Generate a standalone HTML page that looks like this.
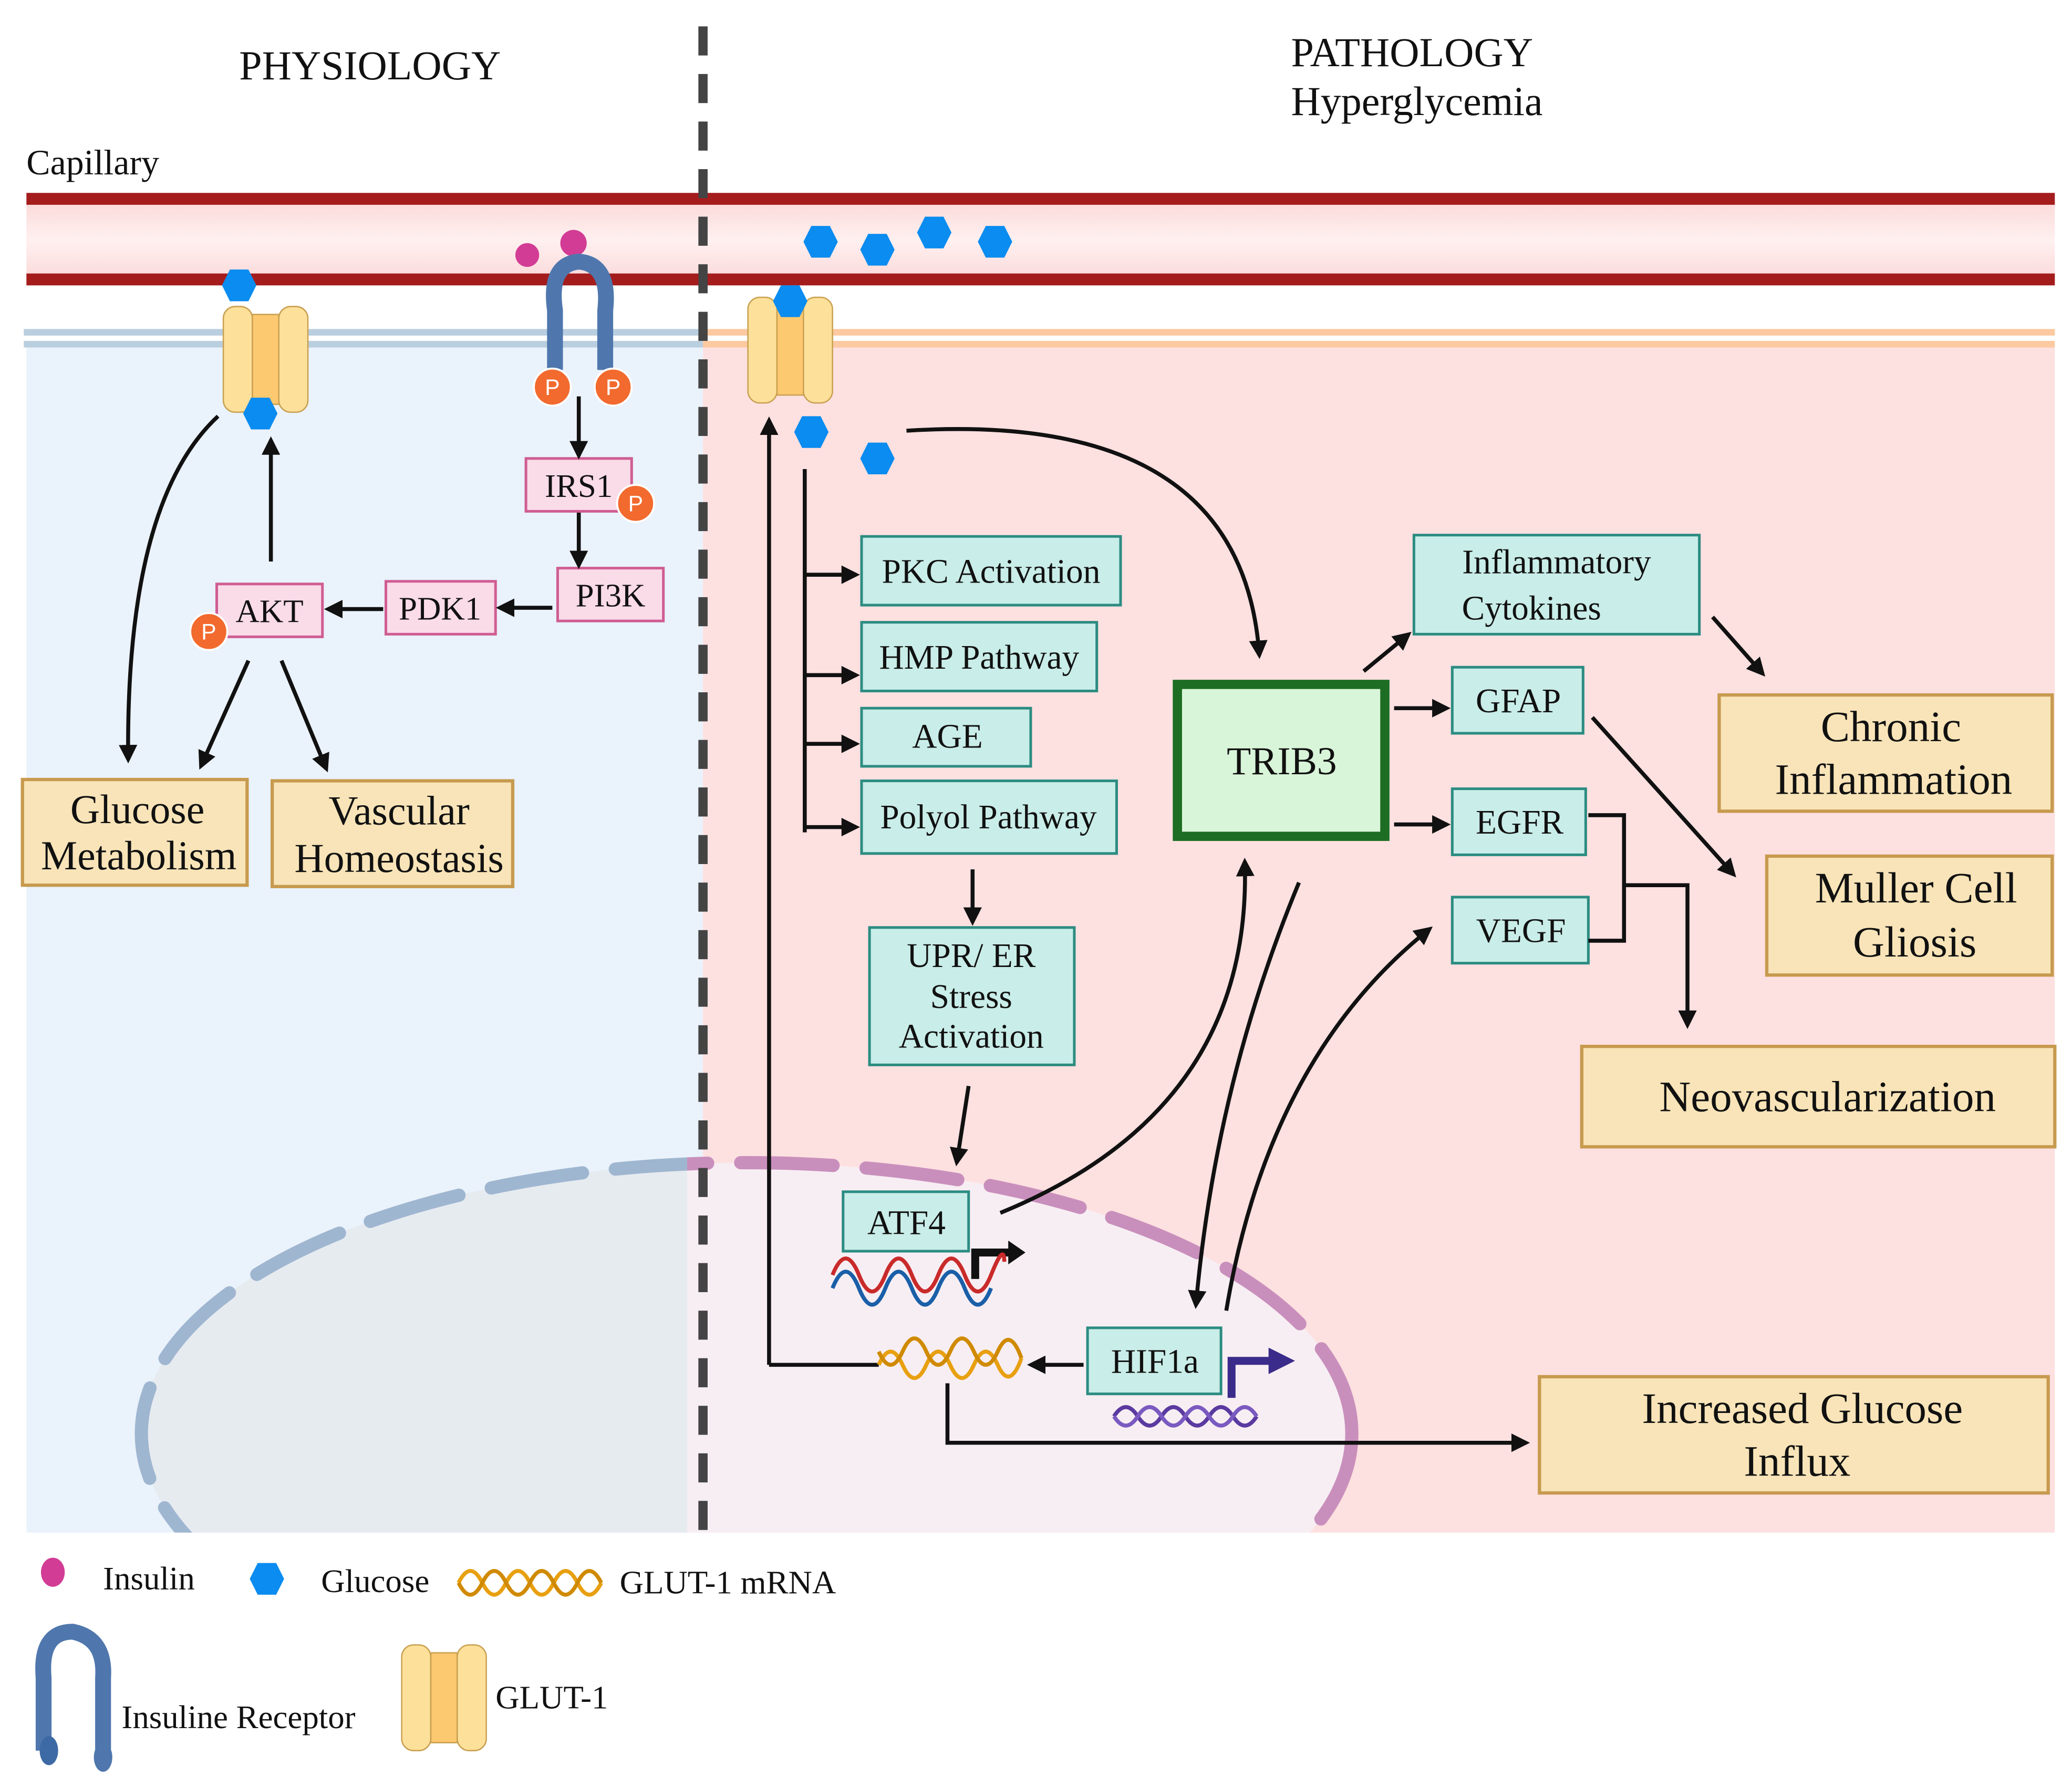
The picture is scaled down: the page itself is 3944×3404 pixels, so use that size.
<!DOCTYPE html>
<html><head><meta charset="utf-8"><style>html,body{margin:0;padding:0;background:#fff}svg{display:block}text{font-family:"Liberation Serif",serif;fill:#111}</style></head><body>
<svg width="3944" height="3404" viewBox="0 0 1568 1353.3" preserveAspectRatio="none" xmlns="http://www.w3.org/2000/svg">
<defs>
<marker id="a" viewBox="0 0 10 10" refX="8" refY="5" markerWidth="14" markerHeight="14" orient="auto" markerUnits="userSpaceOnUse"><path d="M0,0 L10,5 L0,10 z" fill="#111"/></marker>
<g id="hex"><polygon points="-13,0 -7,-12 7,-12 13,0 7,12 -7,12" fill="#0a8cf0"/></g>
<g id="glut"><rect x="-32" y="-40" width="22" height="80" rx="9" fill="#fde09a" stroke="#c9a050"/><rect x="10" y="-40" width="22" height="80" rx="9" fill="#fde09a" stroke="#c9a050"/><rect x="-10" y="-34" width="20" height="68" fill="#fcc870" stroke="#c9a050"/></g>
<g id="P"><circle r="14" fill="#f26a2e" stroke="#fff" stroke-width="1.5"/><text x="0" y="6" text-anchor="middle" font-size="17" style="fill:#fff;font-family:'Liberation Sans',sans-serif">P</text></g>
<linearGradient id="cap" x1="0" x2="0" y1="0" y2="1"><stop offset="0" stop-color="#fbd9d9"/><stop offset="0.5" stop-color="#fff0f0"/><stop offset="1" stop-color="#fbd9d9"/></linearGradient>
<clipPath id="cl"><rect x="0" y="0" width="1568" height="1160"/></clipPath>
<clipPath id="lh"><rect x="0" y="0" width="520" height="1160"/></clipPath>
<clipPath id="rh"><rect x="520" y="0" width="1048" height="1160"/></clipPath>
</defs>
<rect x="20" y="262" width="512" height="898" fill="#eaf2fb"/>
<rect x="532" y="262" width="1023" height="898" fill="#fde0e0"/>
<rect x="20" y="152" width="1535" height="60" fill="url(#cap)"/>
<rect x="20" y="146" width="1535" height="9" fill="#a51c1c"/>
<rect x="20" y="207" width="1535" height="9" fill="#a51c1c"/>
<rect x="18" y="249" width="514" height="5" fill="#b9cfe0"/><rect x="18" y="258" width="514" height="5" fill="#b9cfe0"/>
<rect x="532" y="249" width="1023" height="5" fill="#fcc9a0"/><rect x="532" y="258" width="1023" height="5" fill="#fcc9a0"/>
<g clip-path="url(#cl)">
<ellipse cx="565" cy="1085" rx="458" ry="205" fill="#e6ebf0" clip-path="url(#lh)"/>
<ellipse cx="565" cy="1085" rx="458" ry="205" fill="#f7eef3" clip-path="url(#rh)"/>
<ellipse cx="565" cy="1085" rx="458" ry="205" fill="none" stroke="#9fb6d0" stroke-width="10" stroke-dasharray="70 25" stroke-linecap="round" clip-path="url(#lh)"/>
<ellipse cx="565" cy="1085" rx="458" ry="205" fill="none" stroke="#c98fbc" stroke-width="10" stroke-dasharray="70 25" stroke-linecap="round" clip-path="url(#rh)"/>
</g>
<line x1="532" y1="20" x2="532" y2="1160" stroke="#444" stroke-width="7" stroke-dasharray="22 14"/>
<text x="280" y="60" font-size="31" text-anchor="middle">PHYSIOLOGY</text>
<text x="977" y="50" font-size="31">PATHOLOGY</text>
<text x="977" y="87" font-size="31">Hyperglycemia</text>
<text x="20" y="132" font-size="27">Capillary</text>
<use href="#hex" x="621" y="183"/><use href="#hex" x="664" y="189"/><use href="#hex" x="707" y="176"/><use href="#hex" x="753" y="183"/>
<circle cx="399" cy="193" r="9" fill="#d23c95"/><circle cx="434" cy="184" r="10" fill="#d23c95"/>
<path d="M420,280 L420,235 Q415,200 438,198 Q462,200 458,235 L458,280" fill="none" stroke="#4f77ad" stroke-width="12"/>
<use href="#P" x="418" y="293"/><use href="#P" x="464" y="293"/>
<use href="#glut" x="201" y="272"/><use href="#hex" x="181" y="216"/><use href="#hex" x="197" y="313"/>
<use href="#glut" x="598" y="265"/><use href="#hex" x="598" y="228"/>
<use href="#hex" x="614" y="327"/><use href="#hex" x="664" y="347"/>
<g fill="#fadbe8" stroke="#cf5d93" stroke-width="2">
<rect x="398" y="347" width="80" height="40"/><rect x="422" y="430" width="80" height="40"/><rect x="292" y="440" width="83" height="40"/><rect x="164" y="442" width="80" height="40"/></g>
<g font-size="25"><text x="438" y="376" text-anchor="middle">IRS1</text><text x="462" y="459" text-anchor="middle">PI3K</text><text x="333" y="469" text-anchor="middle">PDK1</text><text x="204" y="471" text-anchor="middle">AKT</text></g>
<use href="#P" x="481" y="381"/><use href="#P" x="158" y="478"/>
<g stroke="#111" stroke-width="3" fill="none" marker-end="url(#a)">
<line x1="438" y1="300" x2="438" y2="345"/><line x1="438" y1="388" x2="438" y2="428"/>
<line x1="418" y1="460" x2="378" y2="460"/><line x1="290" y1="461" x2="248" y2="461"/>
<line x1="205" y1="425" x2="205" y2="333"/>
<path d="M165,315 Q95,380 97,575"/>
<line x1="188" y1="500" x2="152" y2="580"/><line x1="213" y1="500" x2="247" y2="582"/>
</g>
<g fill="#f8e4b8" stroke="#c79a4e" stroke-width="2.5">
<rect x="17" y="590" width="170" height="80"/><rect x="206" y="591" width="182" height="80"/>
<rect x="1301" y="526" width="252" height="88"/><rect x="1337" y="648" width="216" height="90"/>
<rect x="1197" y="792" width="358" height="76"/><rect x="1165" y="1042" width="385" height="88"/></g>
<g font-size="31" text-anchor="middle">
<text x="104" y="623">Glucose</text><text x="105" y="658">Metabolism</text>
<text x="302" y="624">Vascular</text><text x="302" y="660">Homeostasis</text>
<text x="1431" y="561" font-size="33">Chronic</text><text x="1433" y="601" font-size="33">Inflammation</text>
<text x="1450" y="683" font-size="33">Muller Cell</text><text x="1449" y="724" font-size="33">Gliosis</text>
<text x="1383" y="841" font-size="33">Neovascularization</text>
<text x="1364" y="1077" font-size="33">Increased Glucose</text><text x="1360" y="1117" font-size="33">Influx</text></g>
<g fill="#c9ede8" stroke="#2c8c82" stroke-width="2">
<rect x="652" y="406" width="196" height="52"/><rect x="652" y="471" width="178" height="52"/><rect x="652" y="536" width="128" height="44"/><rect x="652" y="591" width="193" height="55"/>
<rect x="658" y="702" width="155" height="104"/><rect x="1070" y="405" width="216" height="75"/>
<rect x="1099" y="505" width="99" height="50"/><rect x="1099" y="597" width="101" height="50"/><rect x="1099" y="679" width="103" height="50"/>
<rect x="638" y="902" width="95" height="45"/><rect x="823" y="1005" width="101" height="50"/></g>
<g font-size="26">
<text x="750" y="441" text-anchor="middle">PKC Activation</text><text x="741" y="506" text-anchor="middle">HMP Pathway</text>
<text x="717" y="566" text-anchor="middle">AGE</text><text x="748" y="627" text-anchor="middle">Polyol Pathway</text>
<text x="735" y="732" text-anchor="middle">UPR/ ER</text><text x="735" y="763" text-anchor="middle">Stress</text><text x="735" y="793" text-anchor="middle">Activation</text>
<text x="1178" y="434" text-anchor="middle">Inflammatory</text><text x="1159" y="469" text-anchor="middle">Cytokines</text>
<text x="1149" y="539" text-anchor="middle">GFAP</text><text x="1150" y="631" text-anchor="middle">EGFR</text><text x="1151" y="713" text-anchor="middle">VEGF</text>
<text x="686" y="934" text-anchor="middle">ATF4</text><text x="874" y="1039" text-anchor="middle">HIF1a</text></g>
<rect x="891" y="518" width="157" height="115" fill="#d9f5d9" stroke="#1d6e24" stroke-width="7"/>
<text x="970" y="586" font-size="30" text-anchor="middle">TRIB3</text>
<g stroke="#111" stroke-width="3" fill="none">
<line x1="609" y1="355" x2="609" y2="630"/>
<line x1="582" y1="1033" x2="582" y2="318" marker-end="url(#a)"/>
<line x1="582" y1="1033" x2="665" y2="1033"/>
<g marker-end="url(#a)">
<line x1="609" y1="435" x2="648" y2="435"/><line x1="609" y1="511" x2="648" y2="511"/><line x1="609" y1="563" x2="648" y2="563"/><line x1="609" y1="626" x2="648" y2="626"/>
<line x1="736" y1="658" x2="736" y2="698"/><line x1="733" y1="822" x2="724" y2="880"/>
<path d="M686,326 Q940,310 953,496"/>
<line x1="1032" y1="508" x2="1066" y2="480"/><line x1="1055" y1="536" x2="1095" y2="536"/><line x1="1055" y1="624" x2="1095" y2="624"/>
<line x1="1296" y1="467" x2="1334" y2="510"/><line x1="1205" y1="543" x2="1312" y2="662"/>
<path d="M757,918 Q948,840 942,652"/>
<path d="M983,668 Q920,820 905,988"/>
<path d="M928,992 Q960,800 1082,703"/>
<line x1="820" y1="1033" x2="780" y2="1033"/>
<path d="M717,1047 L717,1092 L1155,1092"/>
</g>
<path d="M1202,617 L1229,617 L1229,712 L1202,712"/>
<path d="M1229,670 L1277,670 L1277,776" marker-end="url(#a)"/>
</g>
<path d="M738,968 L738,948 L765,948" stroke="#111" stroke-width="6" fill="none"/><polygon points="763,939 776,948 763,957" fill="#111"/>
<path d="M932,1058 L932,1030 L962,1030" stroke="#3b2b8a" stroke-width="6" fill="none"/><polygon points="960,1020 980,1030 960,1040" fill="#3b2b8a"/>
<g fill="none" stroke-width="3">
<path d="M630,965 q10,-25 20,0 t20,0 t20,0 t20,0 t20,0 t20,0 t10,-10" stroke="#c92a2a"/>
<path d="M630,980 q10,-25 20,0 t20,0 t20,0 t20,0 t20,0 t20,0" stroke="#1a5fa8" transform="translate(0,-5)"/>
<path d="M665,1033 q9,-20 18,0 t18,0 t18,0 t18,0 t18,0 t18,-5" stroke="#e8a010"/>
<path d="M665,1023 q9,20 18,0 t18,0 t18,0 t18,0 t18,0 t18,5" stroke="#d08a00"/>
<path d="M843,1072 q9,-14 18,0 t18,0 t18,0 t18,0 t18,0 t18,0" stroke="#5a3aa0"/>
<path d="M843,1072 q9,14 18,0 t18,0 t18,0 t18,0 t18,0 t18,0" stroke="#7a5ac0"/>
<path d="M347,1198 q9,-18 18,0 t18,0 t18,0 t18,0 t18,0 t18,0" stroke="#e8a010"/>
<path d="M347,1198 q9,18 18,0 t18,0 t18,0 t18,0 t18,0 t18,0" stroke="#d08a00"/>
</g>
<ellipse cx="40" cy="1190" rx="9" ry="11" fill="#d23c95"/>
<text x="78" y="1203" font-size="25">Insulin</text>
<use href="#hex" x="202" y="1195"/>
<text x="243" y="1205" font-size="25">Glucose</text>
<text x="469" y="1206" font-size="25">GLUT-1 mRNA</text>
<path d="M33,1325 L33,1270 Q30,1235 55,1235 Q80,1240 78,1270 L78,1325" fill="none" stroke="#4f77ad" stroke-width="12"/>
<ellipse cx="37" cy="1325" rx="7" ry="11" fill="#3d6aa5"/><ellipse cx="78" cy="1330" rx="7" ry="11" fill="#4f77ad"/>
<text x="92" y="1308" font-size="25">Insuline Receptor</text>
<use href="#glut" x="336" y="1285"/>
<text x="375" y="1293" font-size="25">GLUT-1</text>
</svg>
</body></html>
